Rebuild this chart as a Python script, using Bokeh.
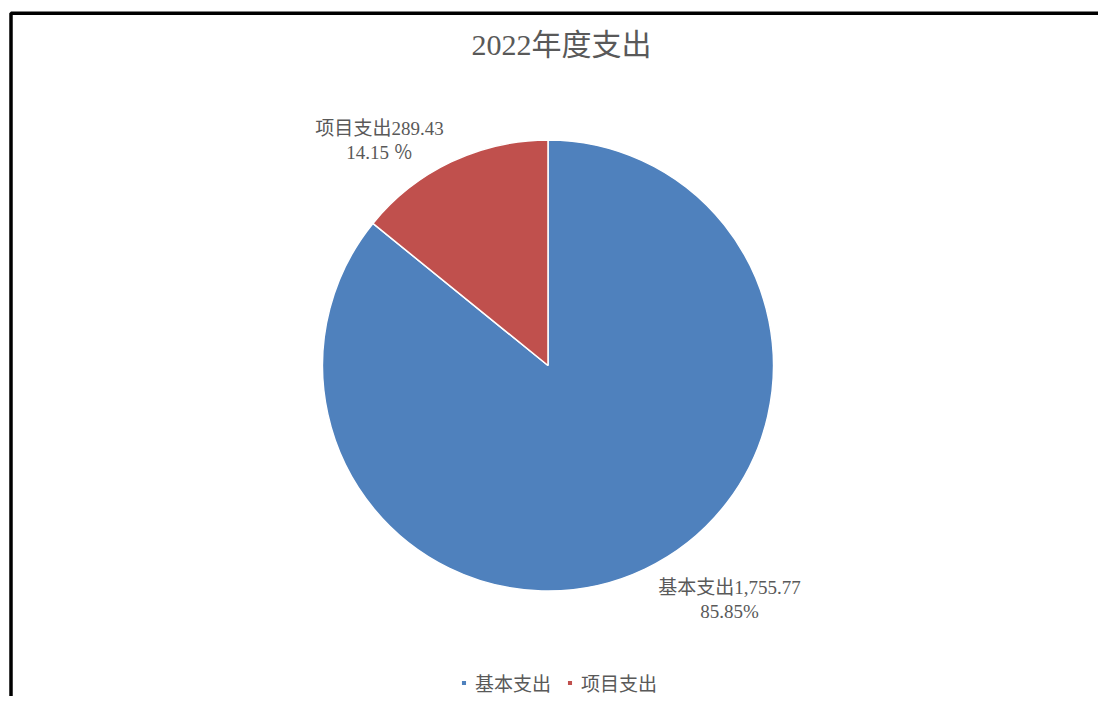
import math
from bokeh.plotting import figure
from bokeh.models import ColumnDataSource, Range1d, Legend, LegendItem
from bokeh.core.properties import value
from bokeh.embed import file_html
from bokeh.resources import INLINE

# ---- data ----
title_text = "2022年度支出"
categories = ["基本支出", "项目支出"]
amounts = [1755.77, 289.43]
amount_labels = ["1,755.77", "289.43"]
percent_labels = ["85.85%", "14.15 ％"]
colors = ["#4F81BD", "#C0504D"]

W, H = 1098, 696
FONT = "Liberation Serif, Noto Sans CJK SC"
TXT = "#595959"

total = sum(amounts)
starts, ends = [], []
a = math.pi / 2
for v in amounts:
    starts.append(a)
    a = a - 2 * math.pi * v / total
    ends.append(a)

src = ColumnDataSource(dict(cat=categories, val=amounts, start=starts, end=ends, color=colors))

p = figure(width=W, height=H, output_backend="svg", toolbar_location=None,
           x_range=Range1d(0, W), y_range=Range1d(0, H),
           x_axis_type=None, y_axis_type=None, min_border=0)
p.grid.visible = False
p.outline_line_color = None
p.background_fill_color = "white"
p.border_fill_color = "white"

# frame lines (top and left)
p.line([10.5, 10.5, W], [0, 683.2, 683.2], line_color="black", line_width=3.5)

cx, cy, R = 547.5, 331, 225.5
r = p.wedge(x=cx, y=cy, radius=R, start_angle="start", end_angle="end",
            direction="clock", fill_color="color", line_color="white",
            line_width=1.5, source=src)

# title
p.text(x=[561], y=[652], text=[title_text], text_align="center", text_baseline="middle",
       text_font=value(FONT), text_font_size="30px", text_color=TXT)

# data labels
label_pos = [(729, 97), (379, 556)]
lab_text = [f"{c}{a}\n{pc}" for c, a, pc in zip(categories, amount_labels, percent_labels)]
p.text(x=[lp[0] for lp in label_pos], y=[lp[1] for lp in label_pos], text=lab_text,
       text_align="center", text_baseline="middle", text_line_height=1.18,
       text_font=value(FONT), text_font_size="19px", text_color=TXT)

legend = Legend(items=[LegendItem(label=c, renderers=[r], index=i) for i, c in enumerate(categories)],
                orientation="horizontal", location=(460, 0),
                glyph_width=7, glyph_height=7, label_standoff=8, spacing=15,
                label_text_font=FONT, label_text_font_size="19px", label_text_color=TXT,
                border_line_color=None, background_fill_alpha=0, padding=0, margin=0)
p.add_layout(legend)

open("out.html", "w").write(file_html(p, INLINE))
